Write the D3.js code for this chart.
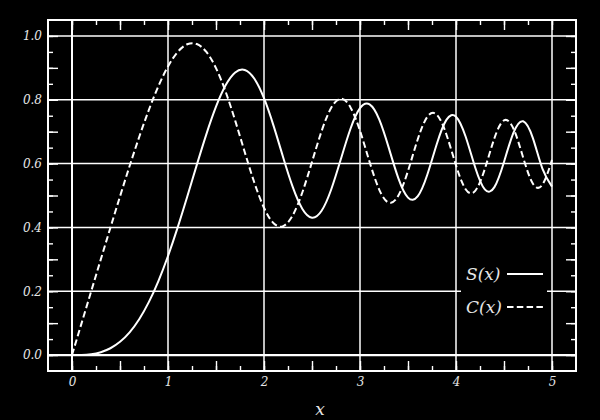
<!DOCTYPE html>
<html><head><meta charset="utf-8">
<script src="https://cdn.jsdelivr.net/npm/d3@7"></script>
<style>html,body{margin:0;padding:0;background:#000;}svg{display:block}</style>
</head><body>
<svg id="c" width="600" height="420"></svg>
<script>
// sample positions
const xValues = [0.0,0.1,0.2,0.3,0.4,0.5,0.6,0.7,0.8,0.9,1.0,1.1,1.2,1.3,1.4,1.5,1.6,1.7,1.8,1.9,2.0,
  2.1,2.2,2.3,2.4,2.5,2.6,2.7,2.8,2.9,3.0,3.1,3.2,3.3,3.4,3.5,3.6,3.7,3.8,3.9,4.0,
  4.1,4.2,4.3,4.4,4.5,4.6,4.7,4.8,4.9,5.0];
// S(x) values
const sValues = [0.0000,0.0003,0.0027,0.0090,0.0213,0.0415,0.0713,0.1124,0.1657,0.2318,0.3103,
  0.3994,0.4961,0.5959,0.6924,0.7782,0.8453,0.8857,0.8935,0.8658,0.8048,
  0.7181,0.6192,0.5261,0.4579,0.4305,0.4521,0.5188,0.6134,0.7085,0.7736,
  0.7855,0.7385,0.6492,0.5536,0.4933,0.4969,0.5641,0.6615,0.7370,0.7471,
  0.6848,0.5878,0.5191,0.5263,0.6052,0.6979,0.7326,0.6805,0.5844,0.5279];
// C(x) values
const cValues = [0.0000,0.1000,0.2000,0.2998,0.3990,0.4969,0.5923,0.6834,0.7678,0.8427,0.9045,
  0.9495,0.9739,0.9747,0.9498,0.8992,0.8255,0.7346,0.6354,0.5399,0.4615,
  0.4131,0.4042,0.4383,0.5102,0.6053,0.7018,0.7748,0.8031,0.7769,0.7029,
  0.6051,0.5187,0.4776,0.4998,0.5770,0.6749,0.7459,0.7531,0.6913,0.5945,
  0.5198,0.5144,0.5829,0.6795,0.7355,0.7085,0.6186,0.5376,0.5339,0.6115];
const xTickLabels = ["0","1","2","3","4","5"];
const yTickLabels = ["0.0","0.2","0.4","0.6","0.8","1.0"];
const seriesNames = ["S(x)","C(x)"];
const xAxisTitle = "x";

const W = 600, H = 420;
const L = 48, T = 20, R = 576, B = 371;
const x = d3.scaleLinear().domain([-0.25, 5.25]).range([L, R]);
const y = d3.scaleLinear().domain([-0.05, 1.05]).range([B, T]);
const FONT = "'DejaVu Serif', serif";
const TXT = "#e6e6e6";

const svg = d3.select("#c");
svg.append("rect").attr("width", W).attr("height", H).attr("fill", "#000");

const xMajor = xTickLabels.map(Number);
const yMajor = yTickLabels.map(Number);

// grid
const grid = svg.append("g");
grid.selectAll("line.gx").data(xMajor).join("line").attr("class","gx")
  .attr("x1", d => x(d)).attr("x2", d => x(d)).attr("y1", T).attr("y2", B)
  .attr("stroke", "#fff").attr("stroke-width", d => d === 0 ? 2 : 1.5);
grid.selectAll("line.gy").data(yMajor).join("line").attr("class","gy")
  .attr("y1", d => y(d)).attr("y2", d => y(d)).attr("x1", L).attr("x2", R)
  .attr("stroke", "#fff").attr("stroke-width", d => d === 0 ? 2.2 : 1.5);

// ticks via axes (inside)
const xMinorT = d3.range(0, 21).map(i => i * 0.25);
const xHalfT = d3.range(0, 11).map(i => i * 0.5);
const yMinorT = d3.range(0, 21).map(i => +(i * 0.05).toFixed(2));
const yHalfT = d3.range(0, 11).map(i => +(i * 0.1).toFixed(1));

function tickAxis(axisFn, scale, vals, size, tx, ty) {
  const a = axisFn(scale).tickValues(vals).tickSizeInner(-size).tickSizeOuter(0).tickFormat("");
  const g = svg.append("g").attr("transform", `translate(${tx},${ty})`).call(a);
  g.select(".domain").remove();
  g.selectAll("line").attr("stroke", "#fff").attr("stroke-width", 1.4);
  return g;
}
tickAxis(d3.axisBottom, x, xMinorT, 5, 0, B);
tickAxis(d3.axisBottom, x, xHalfT, 10, 0, B);
tickAxis(d3.axisTop, x, xMinorT, 5, 0, T);
tickAxis(d3.axisTop, x, xHalfT, 10, 0, T);
tickAxis(d3.axisLeft, y, yMinorT, 5, L, 0);
tickAxis(d3.axisLeft, y, yHalfT, 10, L, 0);
tickAxis(d3.axisRight, y, yMinorT, 5, R, 0);
tickAxis(d3.axisRight, y, yHalfT, 10, R, 0);

// tick labels
const xl = svg.append("g").attr("transform", `translate(0,${B})`)
  .call(d3.axisBottom(x).tickValues(xMajor).tickSize(0).tickPadding(6).tickFormat((d,i) => xTickLabels[i]));
xl.select(".domain").remove();
xl.selectAll("text").attr("font-family", FONT).attr("font-style", "italic")
  .attr("font-size", 12).attr("fill", TXT).attr("dy", "0.78em");
const yl = svg.append("g").attr("transform", `translate(${L},0)`)
  .call(d3.axisLeft(y).tickValues(yMajor).tickSize(0).tickPadding(6).tickFormat((d,i) => yTickLabels[i]));
yl.select(".domain").remove();
yl.selectAll("text").attr("font-family", FONT).attr("font-style", "italic")
  .attr("font-size", 12).attr("fill", TXT);

// axis title
svg.append("text").attr("x", 320).attr("y", 415).attr("text-anchor", "middle")
  .attr("font-family", FONT).attr("font-style", "italic").attr("font-size", 17)
  .attr("fill", TXT).text(xAxisTitle);

// curves
const line = d3.line().x(d => x(d[0])).y(d => y(d[1])).curve(d3.curveNatural);
const sData = xValues.map((v, i) => [v, sValues[i]]);
const cData = xValues.map((v, i) => [v, cValues[i]]);
svg.append("path").datum(cData).attr("d", line).attr("fill", "none")
  .attr("stroke", "#fff").attr("stroke-width", 2).attr("stroke-dasharray", "6.5,3.3");
svg.append("path").datum(sData).attr("d", line).attr("fill", "none")
  .attr("stroke", "#fff").attr("stroke-width", 2);

// legend
const lg = svg.append("g");
lg.append("rect").attr("x", 461).attr("y", 256).attr("width", 86).attr("height", 68).attr("fill", "#000");
const styles = [null, "6.5,3.3"];
seriesNames.forEach((name, i) => {
  const cy = 274 + i * 33;
  lg.append("text").attr("x", 466).attr("y", cy + 5.5).attr("font-family", FONT)
    .attr("font-style", "italic").attr("font-size", 17).attr("fill", TXT).text(name);
  const ln = lg.append("line").attr("x1", 507).attr("x2", 543).attr("y1", cy).attr("y2", cy)
    .attr("stroke", "#fff").attr("stroke-width", 2);
  if (styles[i]) ln.attr("stroke-dasharray", styles[i]);
});

// frame
svg.append("rect").attr("x", L).attr("y", T).attr("width", R - L).attr("height", B - T)
  .attr("fill", "none").attr("stroke", "#fff").attr("stroke-width", 2);
</script>
</body></html>
